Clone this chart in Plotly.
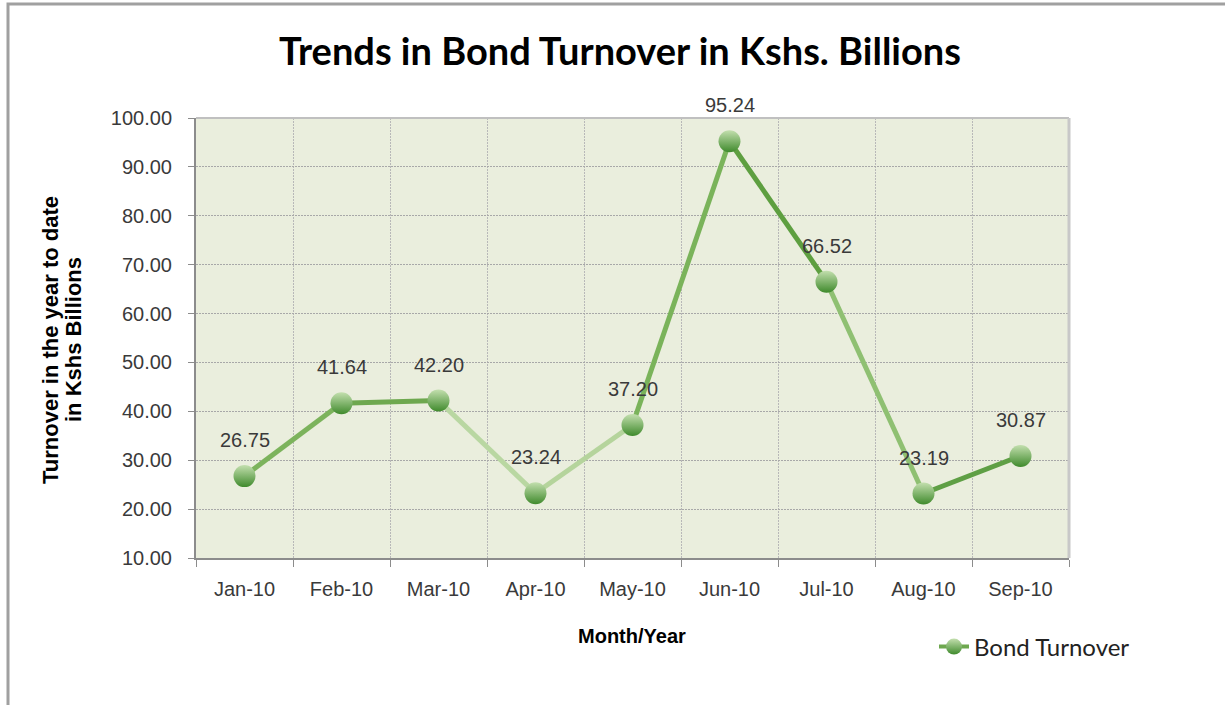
import plotly.graph_objects as go

months = ["Jan-10", "Feb-10", "Mar-10", "Apr-10", "May-10", "Jun-10", "Jul-10", "Aug-10", "Sep-10"]
turnover = [26.75, 41.64, 42.20, 23.24, 37.20, 95.24, 66.52, 23.19, 30.87]
labels = ["26.75", "41.64", "42.20", "23.24", "37.20", "95.24", "66.52", "23.19", "30.87"]

seg_colors = ["#7cb35c", "#6ea84f", "#b9d7a2", "#b5d49c", "#7ab35a", "#5e9f40", "#8fc072", "#5f9f45"]

fig = go.Figure()

for i in range(len(months) - 1):
    fig.add_trace(go.Scatter(
        x=months[i:i + 2], y=turnover[i:i + 2], mode="lines",
        line=dict(color=seg_colors[i], width=5),
        showlegend=False, hoverinfo="skip"))

fig.add_trace(go.Scatter(
    x=months, y=turnover, mode="markers", name="Bond Turnover",
    marker=dict(size=22, color="#c3dfae",
                gradient=dict(type="vertical", color="#3f8a2c"),
                line=dict(width=0)),
    showlegend=False))

# legend proxy
fig.add_trace(go.Scatter(
    x=[None], y=[None], mode="lines+markers", name="Bond Turnover",
    line=dict(color="#6ea84f", width=4),
    marker=dict(size=17, color="#c3dfae",
                gradient=dict(type="vertical", color="#3f8a2c")),
    showlegend=True))

for m, v, t in zip(months, turnover, labels):
    fig.add_annotation(x=m, y=v, text=t, showarrow=False, yshift=36,
                       font=dict(family="Arial", size=20, color="#3a3a3a"))

L, R, T, B = 196, 1069, 118, 558
W, H = R - L, B - T

# y-axis title lines
fig.add_annotation(xref="paper", yref="paper", x=(50 - L) / W, y=(B - 340) / H,
                   xanchor="center", yanchor="middle",
                   text="<b>Turnover in the year to date</b>", textangle=-90, showarrow=False,
                   font=dict(family="Arial", size=22, color="black"))
fig.add_annotation(xref="paper", yref="paper", x=(73 - L) / W, y=(B - 340) / H,
                   xanchor="center", yanchor="middle",
                   text="<b>in Kshs Billions</b>", textangle=-90, showarrow=False,
                   font=dict(family="Arial", size=22, color="black"))
# x-axis title
fig.add_annotation(xref="paper", yref="paper", x=(632 - L) / W, y=(B - 636) / H,
                   xanchor="center", yanchor="middle",
                   text="<b>Month/Year</b>", showarrow=False,
                   font=dict(family="Arial", size=20, color="black"))

# outer frame
fig.add_shape(type="rect", xref="paper", yref="paper",
              x0=(8 - L) / W, x1=(1240 - L) / W,
              y0=(B - 720) / H, y1=(B - 4) / H,
              line=dict(color="#a0a0a0", width=3), layer="below")

fig.update_layout(
    width=1225, height=705,
    margin=dict(l=L, r=1225 - R, t=T, b=705 - B),
    paper_bgcolor="white",
    plot_bgcolor="#eaeedd",
    title=dict(text="<b>Trends in Bond Turnover in Kshs. Billions</b>",
               x=620 / 1225, xanchor="center", y=1 - 52 / 705, yanchor="middle",
               font=dict(family="Lato", size=38, color="black")),
    legend=dict(x=(934 - L) / W, y=(B - 647) / H, xanchor="left", yanchor="middle",
                font=dict(family="Lato", size=24, color="#222222"),
                bgcolor="rgba(0,0,0,0)"),
    showlegend=True,
)

fig.update_xaxes(
    type="category", tickson="boundaries", range=[-0.5, 8.5],
    showgrid=True, gridcolor="#b8b8b8", griddash="2px,1px", gridwidth=1,
    showline=True, linecolor="#8c8c8c", linewidth=2, mirror=False,
    ticks="outside", ticklen=7, tickcolor="#8c8c8c", tickwidth=1,
    ticklabelstandoff=12,
    tickfont=dict(family="Arial", size=20, color="#3a3a3a"),
)

fig.update_yaxes(
    range=[10, 100], dtick=10, tick0=10, tickformat=".2f",
    showgrid=True, gridcolor="#a8a8a8", griddash="2px,1px", gridwidth=1,
    showline=True, linecolor="#8c8c8c", linewidth=2,
    ticks="outside", ticklen=6, tickcolor="#8c8c8c", tickwidth=1,
    ticklabelstandoff=12,
    tickfont=dict(family="Arial", size=20, color="#3a3a3a"),
    zeroline=False,
)

# light border on top and right of plot area
fig.add_shape(type="line", xref="paper", yref="paper", x0=0, x1=1, y0=1, y1=1,
              line=dict(color="#c0c0c0", width=2))
fig.add_shape(type="line", xref="paper", yref="paper", x0=1, x1=1, y0=0, y1=1,
              line=dict(color="#c8c8c8", width=3))

fig.write_html("out.html", config={"displayModeBar": False},
               post_script="document.body.style.margin='0';")
